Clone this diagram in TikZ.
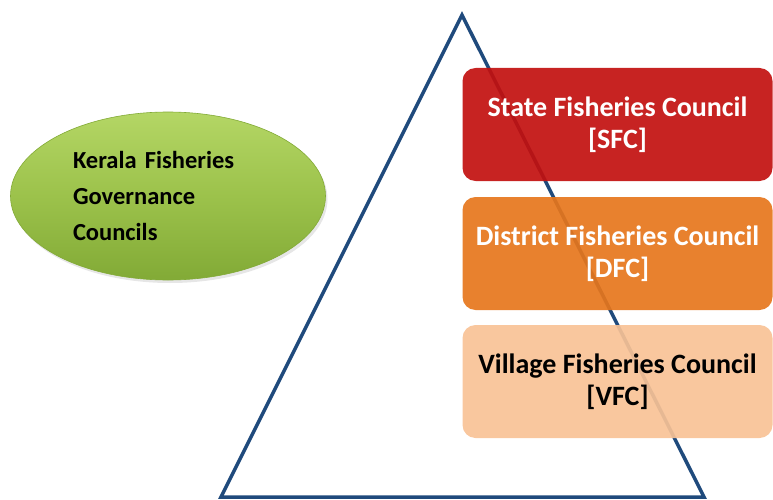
\documentclass[tikz,border=0pt]{standalone}
\usepackage{fontspec}
\setmainfont{Carlito}
\usetikzlibrary{shapes.geometric,shadows}

\definecolor{pyramid}{HTML}{1F4A7C}
\definecolor{sfcred}{HTML}{C2100F}
\definecolor{dfcorange}{HTML}{E6761C}
\definecolor{vfcpeach}{HTML}{F8C296}
\definecolor{leafhi}{HTML}{B4D665}
\definecolor{leafmid}{HTML}{9CC24B}
\definecolor{leaflo}{HTML}{82AA36}

\begin{document}
\begin{tikzpicture}[x=1pt,y=-1pt,
  tier/.style={rounded corners=13pt,minimum width=310pt,minimum height=113pt,align=center,font=\fontsize{28}{32}\selectfont\bfseries,fill opacity=0.92,text opacity=1,inner sep=2pt}]
\useasboundingbox (0,0) rectangle (773,500);
% outline of the pyramid
\draw[pyramid,line width=3.5pt] (462,15) -- (221,497) -- (704,497) -- cycle;
% council tiers
\node[tier,fill=sfcred,text=white] (sfc) at (617.5,124.5) {State Fisheries Council\\{[SFC]}};
\node[tier,fill=dfcorange,text=white] (dfc) at (617.5,253.5) {District Fisheries Council\\{[DFC]}};
\node[tier,fill=vfcpeach,text=black] (vfc) at (617.5,381.5) {Village Fisheries Council\\{[VFC]}};
% title ellipse
\node[ellipse,minimum width=315pt,minimum height=168pt,top color=leafhi,bottom color=leaflo,middle color=leafmid,draw=leaflo,line width=0.6pt,drop shadow={opacity=0.2,shadow xshift=2pt,shadow yshift=-3pt},text width=190pt,align=left,font=\fontsize{24.5}{36}\selectfont\bfseries,inner sep=0pt] (kfgc) at (168,196) {Kerala Fisheries\\Governance\\Councils};
\end{tikzpicture}
\end{document}
